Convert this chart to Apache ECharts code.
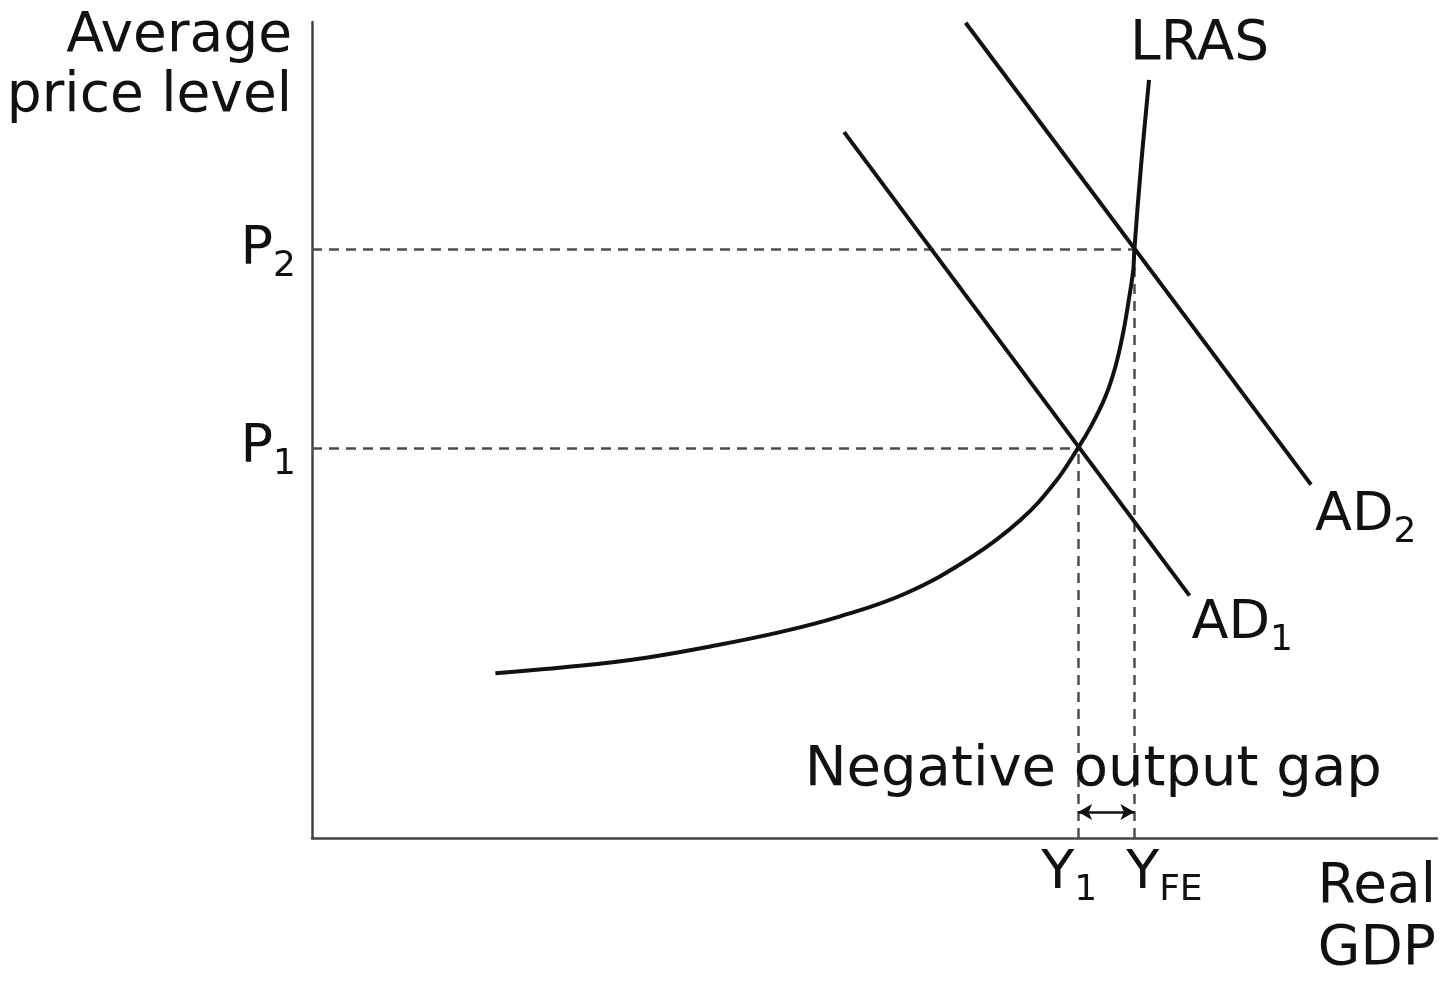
<!DOCTYPE html>
<html>
<head>
<meta charset="utf-8">
<script src="https://cdn.jsdelivr.net/npm/echarts@6/dist/echarts.min.js"></script>
<style>html,body{margin:0;padding:0;background:#fff;}#chart{width:1440px;height:983px;}</style>
</head>
<body>
<div id="chart"></div>
<script>
// LRAS curve (real GDP index, price level index)
const lrasX = [16.3, 23.8, 29.7, 35.5, 41.5, 46.8, 52.8, 58.6, 63.0, 66.0, 68.1, 69.3, 70.5, 71.4, 72.1, 72.6, 73.0, 73.1, 73.7, 74.4];
const lrasY = [20.2, 21.1, 22.1, 23.5, 25.2, 27.1, 30.0, 34.4, 39.0, 43.5, 47.8, 50.6, 54.0, 57.7, 61.9, 65.9, 69.6, 72.1, 82.5, 92.9];
// Aggregate demand lines
const ad1X = [47.3, 78.0];
const ad1Y = [86.5, 29.7];
const ad2X = [58.1, 88.8];
const ad2Y = [99.9, 43.3];
// Equilibrium levels
const P1 = 47.8, P2 = 72.1;
const Y1 = 68.1, YFE = 73.1;
const gapArrowY = 3.2;

const FONT = 'DejaVu Sans';
const TXT = '#111';
const rich = {
  m: {fontFamily: FONT, fontSize: 54, color: TXT, lineHeight: 70},
  s: {fontFamily: FONT, fontSize: 36, color: TXT, lineHeight: 32, verticalAlign: 'bottom'}
};
const zip = (xs, ys) => xs.map((x, i) => [x, ys[i]]);
const dashStyle = {color: '#4d4d4d', width: 2.5, type: [10, 7]};

const chart = echarts.init(document.getElementById('chart'), null, {renderer: 'canvas'});
chart.setOption({
  animation: false,
  backgroundColor: '#fff',
  grid: {left: 312, right: 3, top: 22, bottom: 145},
  xAxis: {type: 'value', min: 0, max: 100,
    axisLine: {show: true, lineStyle: {color: '#444', width: 2.5}},
    axisTick: {show: false}, axisLabel: {show: false}, splitLine: {show: false}},
  yAxis: {type: 'value', min: 0, max: 100,
    axisLine: {show: true, lineStyle: {color: '#444', width: 2.5}},
    axisTick: {show: false}, axisLabel: {show: false}, splitLine: {show: false}},
  graphic: [
    {type: 'text', x: 292, y: 7, style: {text: 'Average\nprice level', font: '55px "DejaVu Sans"', fill: TXT, textAlign: 'right', textVerticalAlign: 'top', lineHeight: 60}},
    {type: 'text', x: 1436, y: 857, style: {text: 'Real\nGDP', font: '55px "DejaVu Sans"', fill: TXT, textAlign: 'right', textVerticalAlign: 'top', lineHeight: 62}}
  ],
  series: [
    {
      name: 'LRAS', type: 'line', data: zip(lrasX, lrasY), smooth: 0.4, showSymbol: false,
      lineStyle: {color: '#111', width: 4}, z: 5,
      endLabel: {show: true, distance: 0, offset: [-19, -35], formatter: 'LRAS', fontFamily: FONT, fontSize: 55, color: TXT},
      markLine: {
        silent: true, symbol: ['none', 'none'], animation: false,
        data: [
          [{coord: [0, P2], lineStyle: dashStyle, label: {show: true, position: 'start', distance: 16, formatter: '{m|P}{s|2}', rich: rich}}, {coord: [YFE, P2]}],
          [{coord: [0, P1], lineStyle: dashStyle, label: {show: true, position: 'start', distance: 16, formatter: '{m|P}{s|1}', rich: rich}}, {coord: [Y1, P1]}],
          [{coord: [Y1, 0], lineStyle: dashStyle, label: {show: true, position: 'start', distance: 1, padding: [0, 18, 0, 0], formatter: '{m|Y}{s|1}', rich: rich}}, {coord: [Y1, P1]}],
          [{coord: [YFE, 0], lineStyle: dashStyle, label: {show: true, position: 'start', distance: 1, padding: [0, 0, 0, 60], formatter: '{m|Y}{s|FE}', rich: rich}}, {coord: [YFE, P2]}],
          [{coord: [Y1, gapArrowY], symbol: 'arrow', symbolSize: [12, 14], lineStyle: {color: '#111', width: 2.5, type: 'solid'},
            label: {show: true, position: 'middle', distance: 13, padding: [0, 26, 0, 0], formatter: 'Negative output gap', fontFamily: FONT, fontSize: 56, color: TXT}},
           {coord: [YFE, gapArrowY], symbol: 'arrow', symbolSize: [12, 14]}]
        ]
      }
    },
    {
      name: 'AD1', type: 'line', data: zip(ad1X, ad1Y), showSymbol: false,
      lineStyle: {color: '#111', width: 4}, z: 5,
      endLabel: {show: true, distance: 0, offset: [2, 28], formatter: '{m|AD}{s|1}', rich: rich}
    },
    {
      name: 'AD2', type: 'line', data: zip(ad2X, ad2Y), showSymbol: false,
      lineStyle: {color: '#111', width: 4}, z: 5,
      endLabel: {show: true, distance: 0, offset: [4, 31], formatter: '{m|AD}{s|2}', rich: rich}
    }
  ]
});
</script>
</body>
</html>
